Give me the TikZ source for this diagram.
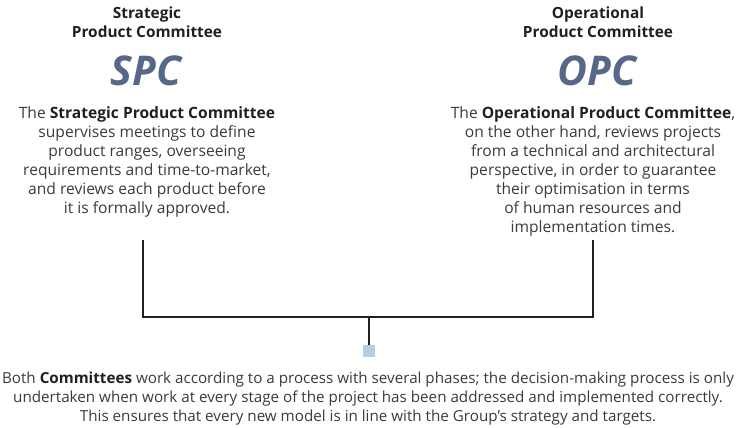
\documentclass[tikz,border=0pt]{standalone}
\usepackage{fontspec}
\setmainfont{Open Sans}
\definecolor{inkdark}{HTML}{231F20}
\definecolor{bodygray}{HTML}{3C3A3B}
\definecolor{acroblue}{HTML}{566787}
\definecolor{hubblue}{HTML}{B7CDDC}
\tikzset{
	title/.style={align=center,anchor=base,text=inkdark,font=\bfseries\fontsize{15.4}{19}\selectfont},
	acro/.style={anchor=base,text=acroblue,font=\bfseries\itshape\fontsize{41}{43}\selectfont},
	body/.style={align=center,anchor=base,text=bodygray,font=\fontsize{15.6}{19.1}\selectfont},
	foot/.style={align=center,anchor=base,text=bodygray,font=\fontsize{15.2}{19}\selectfont},
	link/.style={line width=2.3pt,color=inkdark}
}
\begin{document}
\begin{tikzpicture}[x=1pt,y=-1pt]
	\useasboundingbox (0,0) rectangle (736,428);
	% left committee (base = last line)
	\node[title] (spcTitle) at (147,38) {Strategic\\Product Committee};
	\node[acro] (spc) at (146,85) {SPC};
	\node[body] (spcBody) at (147,213.5) {The \textbf{\color{inkdark}Strategic Product Committee}\\supervises meetings to define\\product ranges, overseeing\\requirements and time-to-market,\\and reviews each product before\\it is formally approved.};
	% right committee
	\node[title] (opcTitle) at (598,38) {Operational\\Product Committee};
	\node[acro] (opc) at (597,85) {OPC};
	\node[body] (opcBody) at (593,232.6) {The \textbf{\color{inkdark}Operational Product Committee},\\on the other hand, reviews projects\\from a technical and architectural\\perspective, in order to guarantee\\their optimisation in terms\\of human resources and\\implementation times.};
	% bracket
	\coordinate (spcEnd) at (143,240);
	\coordinate (opcEnd) at (593,240);
	\coordinate (joint) at (369,317);
	\node[fill=hubblue,minimum size=12pt,inner sep=0pt] (hub) at (369,351) {};
	\draw[link] (spcEnd) |- (joint) -| (opcEnd);
	\draw[link] (joint) -- (hub.north);
	% bottom text
	\node[foot] (note) at (368,421) {Both \textbf{\color{inkdark}Committees} work according to a process with several phases; the decision-making process is only\\undertaken when work at every stage of the project has been addressed and implemented correctly.\\This ensures that every new model is in line with the Group’s strategy and targets.};
\end{tikzpicture}
\end{document}
